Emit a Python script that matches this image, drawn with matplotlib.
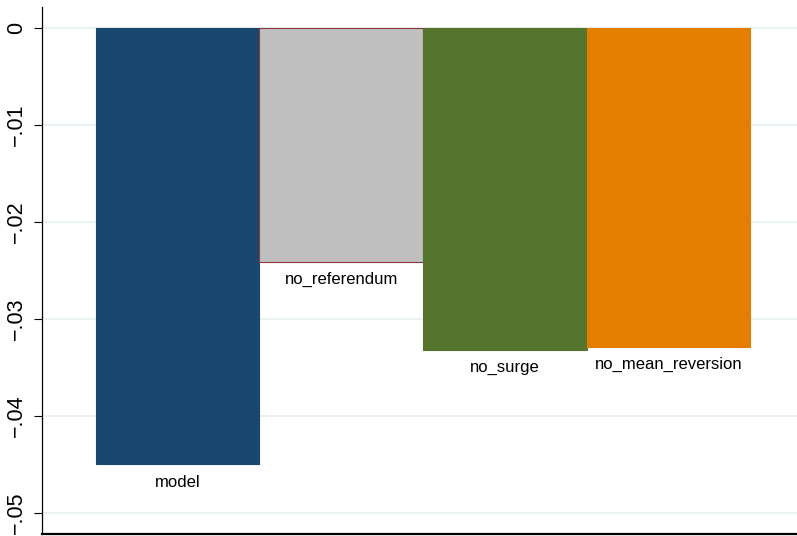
import matplotlib
matplotlib.use('Agg')
import matplotlib.pyplot as plt

# Effect of each model variant
categories = ["model", "no_referendum", "no_surge", "no_mean_reversion"]
values = [-0.0450, -0.0241, -0.0332, -0.0329]
bar_colors = ["#1a476f", "#c0c0c0", "#55752f", "#e37e00"]
edge_colors = ["#1a476f", "#90353b", "#55752f", "#e37e00"]
yticks = [0, -0.01, -0.02, -0.03, -0.04, -0.05]
ytick_labels = ["0", "\u2212.01", "\u2212.02", "\u2212.03", "\u2212.04", "\u2212.05"]

plt.rcParams['font.family'] = ['Liberation Sans', 'DejaVu Sans']

fig = plt.figure(figsize=(7.97, 5.36), dpi=100)
ax = fig.add_axes([42 / 797, 2 / 536, 755 / 797, 527 / 536])

x = list(range(len(categories)))
ax.bar(x, values, width=1.0, color=bar_colors, edgecolor=edge_colors,
       linewidth=0.8, zorder=2)

# category names sit just below each bar
for xi, v, name in zip(x, values, categories):
    ax.annotate(name, (xi, v), xytext=(0, -18), textcoords='offset pixels',
                ha='center', va='center', fontsize=12)

ax.set_xlim(-0.83, 3.787)
ax.set_ylim(-0.0522, 0.00216)
ax.set_yticks(yticks)
ax.set_yticklabels(ytick_labels, rotation=90, va='center', fontsize=15.5)
ax.set_xticks([])
ax.tick_params(axis='y', length=6, width=0.8, pad=5)

ax.grid(axis='y', color='#eaf2f3', linewidth=1.5, zorder=0)
ax.set_axisbelow(True)

for side in ['top', 'right']:
    ax.spines[side].set_visible(False)
ax.spines['left'].set_linewidth(0.9)
ax.spines['bottom'].set_linewidth(1.6)

fig.savefig("out.png", dpi=100)
